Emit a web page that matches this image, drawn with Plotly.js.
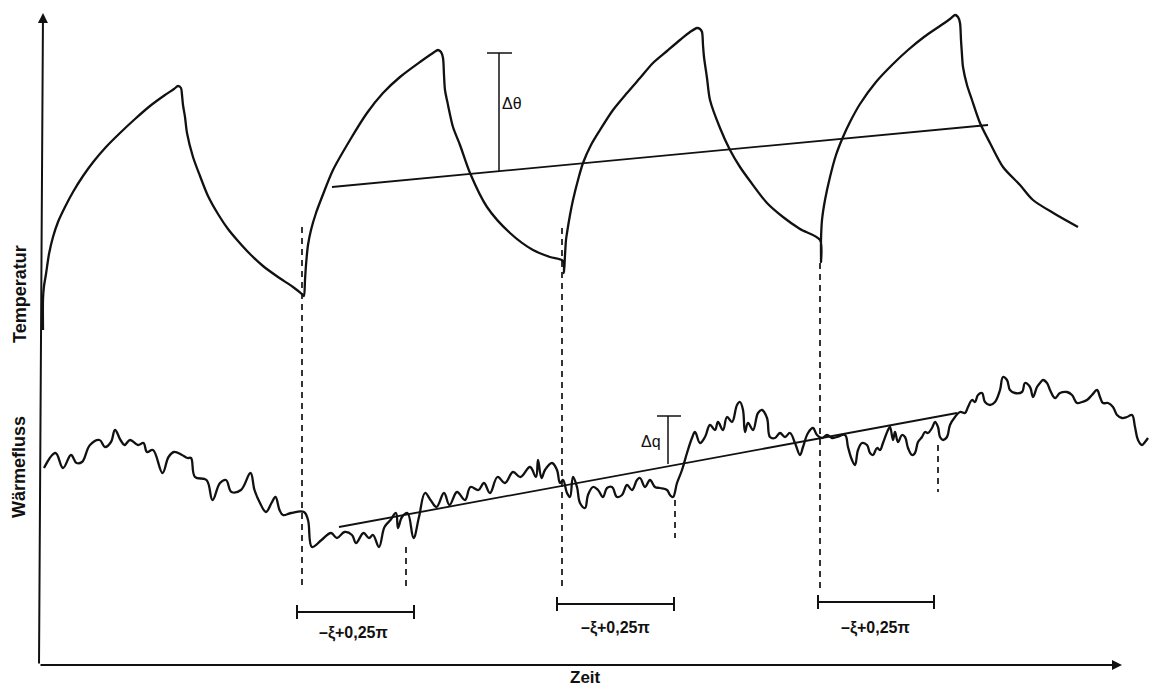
<!DOCTYPE html>
<html>
<head>
<meta charset="utf-8">
<script src="https://cdn.plot.ly/plotly-3.0.1.min.js"></script>
<style>html,body{margin:0;padding:0;background:#fff}#chart{width:1151px;height:691px}</style>
</head>
<body>
<div id="chart"></div>
<script>
// ---- Data (arbitrary units: time t, value v) ----
// Temperature curve (four heating/cooling cycles)
const tempT = [5,5,6,8,11,15,20,27,35,45,56,68,82,97,112,127,136,140,143,144,145,147,149,155,162,170,180,190,200,212,225,240,255,265,
  266,267,268,270,273,278,284,295,312,329,345,362,382,395,400,403,405,406,407,410,415,422,432,449,472,495,512,525,
  526,527,528,529,532,535,540,545,553,562,575,589,602,615,629,642,652,659,662,664,665,666,669,672,682,692,702,712,729,745,762,782,
  783,783,784,787,792,798,805,812,822,838,855,870,886,902,912,917,920,922,923,924,925,929,934,942,952,965,982,995,1017,1040];
const tempV = [334,365,378,390,410,427,442,457,472,488,503,517,531,545,558,569,575,578,576,569,559,547,531,507,488,468,450,435,423,410,398,387,377,369,
  368,384,399,419,434,451,467,494,524,551,571,587,602,611,614,612,606,589,574,559,537,519,491,457,431,414,407,403,
  391,409,424,431,449,464,484,501,519,534,554,571,586,601,613,624,632,636,635,632,619,607,586,564,536,514,497,483,461,447,435,424,
  402,424,444,464,487,509,527,542,560,582,600,614,627,638,645,649,647,641,624,609,597,579,564,541,521,497,479,464,450,437];

// Heat flux curve (noisy)
const fluxT = [
  6,17.5,25,33,38.5,44,52,61.5,67,73,
  77,82.5,86.5,92,100,105.5,109,115,124.5,130.5,
  136,144,149.5,153,157,168.5,174.5,182,188,193.5,
  203,212.5,216.5,222,228,233.5,237.5,241.5,245,253,
  266,270,274,283.5,293,299,306.5,314,318,325.5,
  331,335,341,346.5,352.5,358,360,364,369.5,375.5,
  381,387,392.5,398.5,406,411.5,419,427,432.5,440.5,
  446,452,459.5,467,475,482.5,492,498,500,503.5,
  507,514,519,522,525,529,532,535,539,542,
  547,550,555,560,565,569,574,579,584,589,
  594,599,602,607,612,617,622,629,632,635,
  639,644,649,654,657,662,667,672,677,680,
  685,689,694,699,702,705,707,710,715,720,
  724,729,732,737,742,747,752,757,762,765,
  770,775,779,784,789,794,799,807,810,814,
  817,820,824,829,832,835,839,842,845,850,
  852,855,857,860,864,867,870,874,877,880,
  884,887,890,894,897,900,902,905,909,912,
  917,922,927,930,934,937,940,944,947,952,
  957,962,965,969,972,977,984,987,992,995,
  999,1002,1005,1009,1012,1017,1022,1029,1034,1039,
  1044,1049,1054,1059,1062,1065,1070,1075,1079,1084,
  1089,1094,1097,1100,1104,1107,1110];
const fluxV = [
  196,211,196,209,201,202,219,224,217,222,
  234,224,219,224,219,221,212,214,191,207,
  212,209,206,206,187,184,164,181,184,172,
  174,191,174,161,152,161,167,154,149,151,
  152,144,117,124,131,126,132,129,121,131,
  126,129,117,137,144,151,136,147,151,126,
  147,171,164,157,171,159,172,164,177,174,
  181,171,187,181,192,187,197,187,204,186,
  194,201,194,181,184,171,167,187,177,161,
  156,169,177,174,167,176,177,167,169,179,
  174,184,186,177,184,177,176,174,169,167,
  181,194,211,226,232,221,227,239,234,242,
  234,247,242,259,262,254,232,241,234,251,
  254,246,227,226,231,227,231,221,209,217,
  231,236,229,226,229,226,227,229,217,204,
  199,214,221,219,211,209,216,214,221,234,
  237,224,232,222,229,227,216,209,211,222,
  227,232,231,236,242,237,227,224,227,239,
  247,252,251,257,264,262,269,271,262,259,
  262,274,287,284,274,271,272,281,277,267,
  277,281,284,281,274,266,271,272,269,261,
  262,264,269,274,267,261,261,257,249,246,
  247,249,237,224,219,222,226];

// Mean trend lines
const tempTrendT = [294, 950];
const tempTrendV = [477, 539];
const fluxTrendT = [301, 919];
const fluxTrendV = [137, 251];

// Dashed vertical reference lines
const dashT      = [264, 368, 524, 637, 782, 900];
const dashTop    = [437, 117, 436, 164, 401, 219];
const dashBottom = [74, 74, 74, 126, 74, 172];

// Phase-shift brackets
const bracketStart = [259, 519, 780];
const bracketEnd   = [376, 636, 896];
const bracketV     = [52, 60, 62];
const bracketLabel = ["–ξ+0,25π", "–ξ+0,25π", "–ξ+0,25π"];
const bracketLabelT = [315, 577, 837];
const bracketLabelV = [31, 36, 36];

// Amplitude markers
const ampT      = [461, 630];
const ampTop    = [611, 248];
const ampBottom = [493, 200];
const ampCapL   = [449, 619];
const ampCapR   = [474, 643];
const ampLabel  = ["Δθ", "Δq"];
const ampLabelT = [474, 613];
const ampLabelV = [561, 223];

// Axis titles
const axisLabels = ["Temperatur", "Wärmefluss", "Zeit"];
const axisLabelT = [-18, -19, 547];
const axisLabelV = [370, 197, -14];
const axisLabelAngle = [-90, -90, 0];
const axisLabelSize = [18, 18, 17];

// ---- Axis ranges ----
const xRange = [-8, 1113];
const yRange = [-7, 664];
const toPaperX = t => (t - xRange[0]) / (xRange[1] - xRange[0]);
const toPaperY = v => (v - yRange[0]) / (yRange[1] - yRange[0]);

// ---- Build traces ----
const ink = '#111';
const traces = [];
traces.push({x: tempT, y: tempV, mode: 'lines', line: {color: ink, width: 2.3, shape: 'spline', smoothing: 0.8}, hoverinfo: 'skip'});
traces.push({x: fluxT, y: fluxV, mode: 'lines', line: {color: ink, width: 2.3, shape: 'spline', smoothing: 1.1}, hoverinfo: 'skip'});
traces.push({x: tempTrendT, y: tempTrendV, mode: 'lines', line: {color: ink, width: 1.8}, hoverinfo: 'skip'});
traces.push({x: fluxTrendT, y: fluxTrendV, mode: 'lines', line: {color: ink, width: 1.8}, hoverinfo: 'skip'});

const dx = [], dy = [];
dashT.forEach((t, i) => { dx.push(t, t, null); dy.push(dashTop[i], dashBottom[i], null); });
traces.push({x: dx, y: dy, mode: 'lines', line: {color: ink, width: 1.7, dash: '6px,5px'}, hoverinfo: 'skip'});

const bx = [], by = [];
const tick = 7;
bracketStart.forEach((s, i) => {
  const e = bracketEnd[i], v = bracketV[i];
  bx.push(s, e, null, s, s, null, e, e, null);
  by.push(v, v, null, v - tick, v + tick, null, v - tick, v + tick, null);
});
traces.push({x: bx, y: by, mode: 'lines', line: {color: ink, width: 2}, hoverinfo: 'skip'});

const ax = [], ay = [];
ampT.forEach((t, i) => {
  ax.push(t, t, null, ampCapL[i], ampCapR[i], null);
  ay.push(ampTop[i], ampBottom[i], null, ampTop[i], ampTop[i], null);
});
traces.push({x: ax, y: ay, mode: 'lines', line: {color: ink, width: 1.5}, hoverinfo: 'skip'});

// ---- Annotations ----
const fam = '"Liberation Sans", Arial, Helvetica, sans-serif';
const annotations = [];
bracketLabel.forEach((txt, i) => annotations.push({
  x: bracketLabelT[i], y: bracketLabelV[i], xref: 'x', yref: 'y', text: txt, showarrow: false,
  xanchor: 'center', yanchor: 'middle', font: {family: fam, size: 16, color: ink, weight: 'bold'}
}));
ampLabel.forEach((txt, i) => annotations.push({
  x: ampLabelT[i], y: ampLabelV[i], xref: 'x', yref: 'y', text: txt, showarrow: false,
  xanchor: 'center', yanchor: 'middle', font: {family: fam, size: 16, color: ink}
}));
axisLabels.forEach((txt, i) => annotations.push({
  x: toPaperX(axisLabelT[i]), y: toPaperY(axisLabelV[i]), xref: 'paper', yref: 'paper', text: txt, showarrow: false,
  textangle: axisLabelAngle[i], xanchor: 'center', yanchor: 'middle', borderpad: 0,
  font: {family: fam, size: axisLabelSize[i], color: ink, weight: 'bold'}
}));
// axis arrows
annotations.push({x: 5, y: 651, ax: 1, ay: -1, xref: 'x', yref: 'y', axref: 'x', ayref: 'y', text: '',
  showarrow: true, arrowhead: 2, arrowsize: 1, arrowwidth: 2, arrowcolor: ink, standoff: 0});
annotations.push({x: 1084, y: -1, ax: 1, ay: -1, xref: 'x', yref: 'y', axref: 'x', ayref: 'y', text: '',
  showarrow: true, arrowhead: 2, arrowsize: 1, arrowwidth: 2, arrowcolor: ink, standoff: 0});

const layout = {
  width: 1151, height: 691,
  margin: {l: 30, r: 0, t: 0, b: 20, pad: 0},
  paper_bgcolor: '#fff', plot_bgcolor: '#fff',
  showlegend: false,
  xaxis: {range: xRange, visible: false, fixedrange: true},
  yaxis: {range: yRange, visible: false, fixedrange: true},
  annotations: annotations
};

Plotly.newPlot('chart', traces, layout, {staticPlot: true, displayModeBar: false});
</script>
</body>
</html>
